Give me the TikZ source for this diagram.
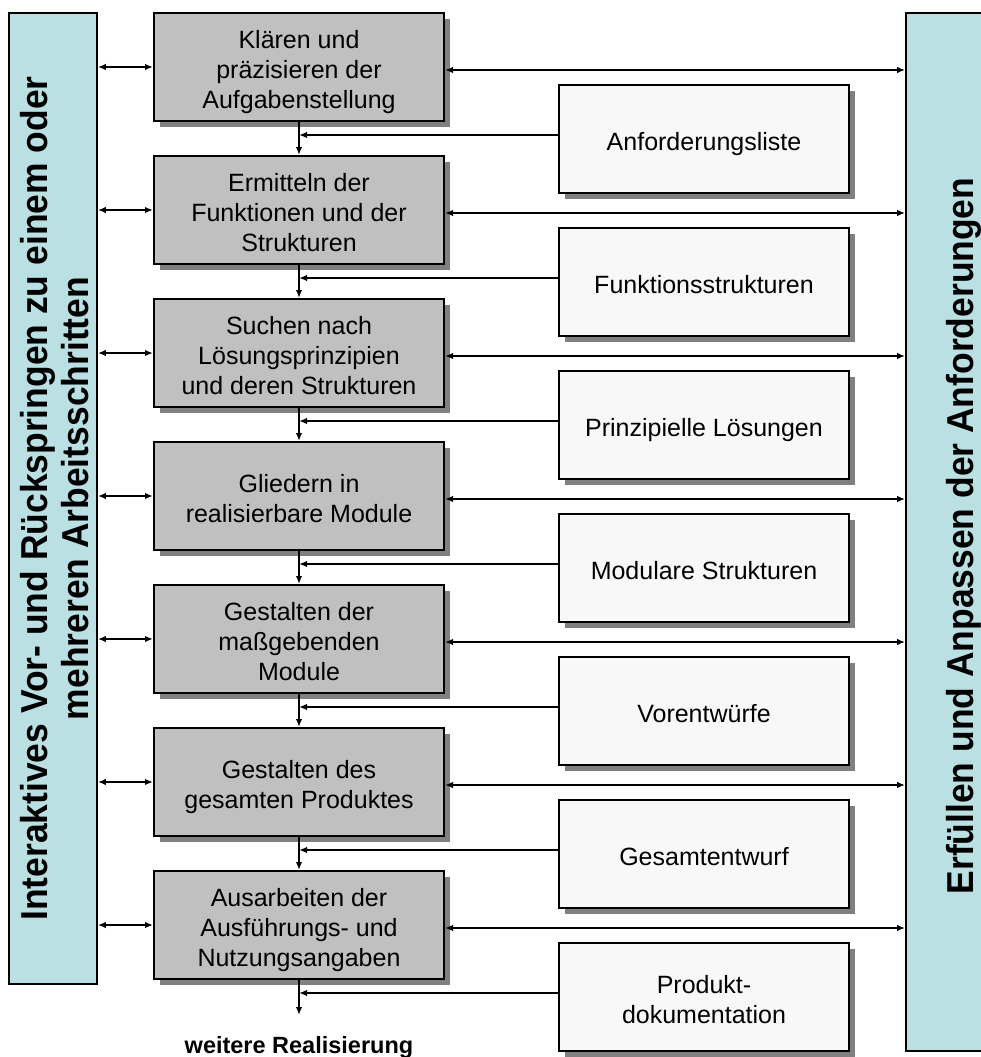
\documentclass[tikz,border=0pt]{standalone}
\usepackage{fontspec}
\usepackage{graphicx}
\setmainfont{Liberation Sans}
\usetikzlibrary{arrows.meta,shadows}

\definecolor{barblue}{HTML}{BBE0E3}
\definecolor{stepgray}{HTML}{C0C0C0}
\definecolor{docwhite}{HTML}{F8F8F8}
\definecolor{shade}{HTML}{808080}

% fixed line box so every box text block is centred the same way
\newcommand\lntop{\rule{0pt}{28pt}}
\newcommand\lnbot{\rule[-6pt]{0pt}{6pt}}
% narrow, tall lettering of the side bars
\newcommand\barlabel[1]{\scalebox{0.945}[1]{#1}}

\begin{document}
\begin{tikzpicture}[x=1pt,y=-1pt,
  >={Latex[length=8pt,width=6.5pt]},
  bar/.style={draw=black, line width=1.8pt, fill=barblue, inner sep=0pt},
  bartext/.style={rotate=90, font=\bfseries\fontsize{37.5}{41}\selectfont, inner sep=0pt},
  boxbase/.style={draw=black, line width=2pt, minimum width=290pt, minimum height=108pt,
    inner sep=0pt, align=center, font=\fontsize{25}{30}\selectfont,
    drop shadow={shadow xshift=6pt, shadow yshift=-6pt, fill=shade, opacity=1}},
  stepbox/.style={boxbase, fill=stepgray},
  docbox/.style={boxbase, fill=docwhite},
  conn/.style={line width=1.8pt, draw=black}
]
\useasboundingbox (0,0) rectangle (981,1057);
\clip (0,0) rectangle (981,1057);

% side bars
\node[bar, minimum width=88pt, minimum height=971pt] (lbar) at (53,498.5) {};
\node[bar, minimum width=104pt, minimum height=1038pt] (rbar) at (958,532) {};
\node[bartext, anchor=base] (ltxt1) at (47,498.5) {\barlabel{Interaktives Vor- und Rückspringen zu einem oder}};
\node[bartext, anchor=base] (ltxt2) at (88,498.5) {\barlabel{mehreren Arbeitsschritten}};
\node[bartext, anchor=base] (rtxt) at (973,536) {\barlabel{Erfüllen und Anpassen der Anforderungen}};

% working steps
\node[stepbox] (s1) at (299,67)  {\lntop Klären und\\präzisieren der\\Aufgabenstellung\lnbot};
\node[stepbox] (s2) at (299,210) {\lntop Ermitteln der\\Funktionen und der\\Strukturen\lnbot};
\node[stepbox] (s3) at (299,353) {\lntop Suchen nach\\Lösungsprinzipien\\und deren Strukturen\lnbot};
\node[stepbox] (s4) at (299,496) {\lntop Gliedern in\\realisierbare Module\lnbot};
\node[stepbox] (s5) at (299,639) {\lntop Gestalten der\\maßgebenden\\Module\lnbot};
\node[stepbox] (s6) at (299,782) {\lntop Gestalten des\\gesamten Produktes\lnbot};
\node[stepbox] (s7) at (299,925) {\lntop Ausarbeiten der\\Ausführungs- und\\Nutzungsangaben\lnbot};

% results of the steps
\node[docbox] (d1) at (704,139) {\lntop Anforderungsliste\lnbot};
\node[docbox] (d2) at (704,282) {\lntop Funktionsstrukturen\lnbot};
\node[docbox] (d3) at (704,425) {\lntop Prinzipielle Lösungen\lnbot};
\node[docbox] (d4) at (704,568) {\lntop Modulare Strukturen\lnbot};
\node[docbox] (d5) at (704,711) {\lntop Vorentwürfe\lnbot};
\node[docbox] (d6) at (704,854) {\lntop Gesamtentwurf\lnbot};
\node[docbox] (d7) at (704,997) {\lntop Produkt-\\dokumentation\lnbot};

\coordinate (fin) at (299,1015);
\node[anchor=base, inner sep=0pt, font=\bfseries\fontsize{23.5}{28}\selectfont] (next) at (299,1053) {weitere Realisierung};

% main flow
\foreach \a/\b in {s1/s2,s2/s3,s3/s4,s4/s5,s5/s6,s6/s7}
  \draw[conn,->] (\a.south) -- (\b.north);
\draw[conn,->] (s7.south) -- (fin);

% results fed back into the flow
\foreach \d/\s in {d1/s1,d2/s2,d3/s3,d4/s4,d5/s5,d6/s6,d7/s7}
  \draw[conn,->] ([yshift=4pt]\d.west) -- ([yshift=4pt]\d.west -| \s.south);

% links to the side bars
\foreach \s in {s1,s2,s3,s4,s5,s6,s7}{
  \draw[conn,<->] (\s.west -| lbar.east) -- (\s.west);
  \draw[conn,<->] ([yshift=-3pt]\s.east) -- ([yshift=-3pt]\s.east -| rbar.west);
}
\end{tikzpicture}
\end{document}
